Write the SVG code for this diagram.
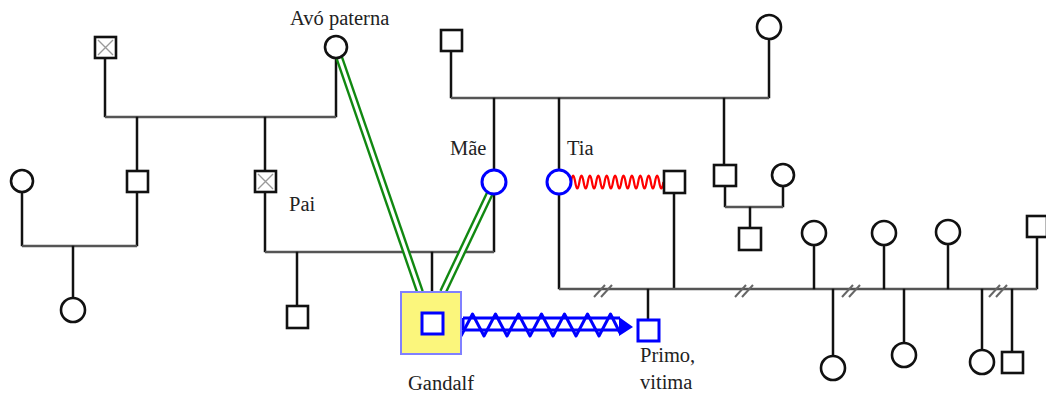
<svg xmlns="http://www.w3.org/2000/svg" width="1046" height="394" viewBox="0 0 1046 394">
<style>
.ln{fill:none;stroke:#111;stroke-width:2.5;stroke-linecap:square}
.hl{fill:none;stroke:#555;stroke-width:2.5}
.sq{fill:#fff;stroke:#111;stroke-width:2.6}
.ci{fill:#fff;stroke:#111;stroke-width:2.6}
.bci{fill:#fff;stroke:#0000ff;stroke-width:3}
.bsq{fill:#fff;stroke:#0000ff;stroke-width:3}
.xx{stroke:#9a9a9a;stroke-width:1.4}
.sl{stroke:#666;stroke-width:2}
.g1{fill:none;stroke:#118811;stroke-width:8}
.g2{fill:none;stroke:#fff;stroke-width:3.2}
.t{font-family:"Liberation Serif","Times New Roman",serif;font-size:20.5px;fill:#222}
</style>
<rect width="1046" height="394" fill="#fff"/>
<g id="connectors">
  <path class="ln" d="M105,58 V116"/>
  <path class="ln" d="M336,58 V116"/>
  <path class="hl" d="M105,117 H336"/>
  <path class="ln" d="M137,118 V170"/>
  <path class="ln" d="M265,118 V170"/>
  <path class="ln" d="M22,192 V245"/>
  <path class="ln" d="M137,192 V245"/>
  <path class="hl" d="M22,246 H137"/>
  <path class="ln" d="M73,247 V298"/>
  <path class="ln" d="M265,192 V251"/>
  <path class="ln" d="M494,194 V251"/>
  <path class="hl" d="M265,252 H494"/>
  <path class="ln" d="M432,253 V292"/>
  <path class="ln" d="M297,253 V306"/>
  <path class="ln" d="M451,51 V97"/>
  <path class="ln" d="M769,39 V97"/>
  <path class="hl" d="M451,98 H769"/>
  <path class="ln" d="M494,99 V170"/>
  <path class="ln" d="M559,99 V170"/>
  <path class="ln" d="M724,99 V165"/>
  <path class="ln" d="M725,187 V206"/>
  <path class="ln" d="M783,186 V206"/>
  <path class="hl" d="M725,207 H783"/>
  <path class="ln" d="M750,208 V228"/>
  <path class="ln" d="M559,194 V288"/>
  <path class="ln" d="M674,193 V288"/>
  <path class="ln" d="M1037,237 V288"/>
  <path class="hl" d="M559,289 H1037"/>
  <path class="ln" d="M814,245 V288"/>
  <path class="ln" d="M884,245 V288"/>
  <path class="ln" d="M948,244 V288"/>
  <path class="ln" d="M648,290 V319"/>
  <path class="ln" d="M833,290 V356"/>
  <path class="ln" d="M904,290 V343"/>
  <path class="ln" d="M982,290 V350"/>
  <path class="ln" d="M1012,290 V352"/>
  <g transform="translate(604,290)"><line class="sl" x1="-10" y1="7" x2="1" y2="-5"/><line class="sl" x1="-3" y1="7" x2="8" y2="-5"/></g>
  <g transform="translate(745,290)"><line class="sl" x1="-10" y1="7" x2="1" y2="-5"/><line class="sl" x1="-3" y1="7" x2="8" y2="-5"/></g>
  <g transform="translate(852,290)"><line class="sl" x1="-10" y1="7" x2="1" y2="-5"/><line class="sl" x1="-3" y1="7" x2="8" y2="-5"/></g>
  <g transform="translate(999,290)"><line class="sl" x1="-10" y1="7" x2="1" y2="-5"/><line class="sl" x1="-3" y1="7" x2="8" y2="-5"/></g>
  <path fill="none" stroke="#ff0000" stroke-width="2.2" d="M571,182 q2.1,-13 4.2,0 t4.2,0 t4.2,0 t4.2,0 t4.2,0 t4.2,0 t4.2,0 t4.2,0 t4.2,0 t4.2,0 t4.2,0 t4.2,0 t4.2,0 t4.2,0 t4.2,0 t4.2,0 t4.2,0 t4.2,0 t4.2,0 t4.2,0 t4.2,0 t4.2,0"/>
  <path class="g1" d="M339,57 L420,292"/>
  <path class="g2" d="M339,57 L420,292"/>
  <path class="g1" d="M490,193 L443,292"/>
  <path class="g2" d="M490,193 L443,292"/>
  <g fill="none" stroke="#0000ff" stroke-width="3" stroke-linejoin="round">
    <path d="M463,318 H620 M463,330 H620 M463,318 V330"/>
    <polyline points="461,336 472.5,314 484,336 495.5,314 507,336 518.5,314 530,336 541.5,314 553,336 564.5,314 576,336 587.5,314 599,336 610.5,314 620,333"/>
  </g>
  <polygon points="619,317 633,327 619,336" fill="#0000ff"/>
</g>
<g id="n-gf-pat"><rect class="sq" x="95" y="37" width="21" height="21"/><path class="xx" d="M98,40 L113,55 M113,40 L98,55"/></g>
<g id="n-avo"><circle class="ci" cx="336" cy="47" r="11"/></g>
<g id="n-uncle1"><rect class="sq" x="127" y="171" width="21" height="21"/></g>
<g id="n-pai"><rect class="sq" x="255" y="171" width="21" height="21"/><path class="xx" d="M258,174 L273,189 M273,174 L258,189"/></g>
<g id="n-uncle1-wife"><circle class="ci" cx="22" cy="181" r="11"/></g>
<g id="n-cousin1"><circle class="ci" cx="73" cy="310" r="12"/></g>
<g id="n-halfbrother"><rect class="sq" x="287" y="306" width="21" height="22"/></g>
<g id="n-mae"><circle class="bci" cx="494" cy="182" r="12"/></g>
<g id="n-tia"><circle class="bci" cx="559" cy="182" r="12"/></g>
<g id="n-tia-partner"><rect class="sq" x="664" y="171" width="21" height="22"/></g>
<g id="n-gf-mat"><rect class="sq" x="441" y="30" width="21" height="21"/></g>
<g id="n-gm-mat"><circle class="ci" cx="769" cy="27" r="12"/></g>
<g id="n-uncle2"><rect class="sq" x="714" y="165" width="22" height="21"/></g>
<g id="n-uncle2-wife"><circle class="ci" cx="783" cy="175" r="11"/></g>
<g id="n-uncle2-child"><rect class="sq" x="739" y="228" width="22" height="22"/></g>
<g id="n-c1"><circle class="ci" cx="814" cy="233" r="12"/></g>
<g id="n-c2"><circle class="ci" cx="884" cy="233" r="12"/></g>
<g id="n-c3"><circle class="ci" cx="948" cy="232" r="12"/></g>
<g id="n-c4"><rect class="sq" x="1027" y="216" width="20" height="21"/></g>
<g id="n-k1"><circle class="ci" cx="833" cy="368" r="12"/></g>
<g id="n-k2"><circle class="ci" cx="904" cy="355" r="12"/></g>
<g id="n-k3"><circle class="ci" cx="982" cy="362" r="12"/></g>
<g id="n-k4"><rect class="sq" x="1002" y="352" width="21" height="21"/></g>
<g id="n-primo"><rect class="bsq" x="638" y="320" width="21" height="21"/></g>
<g id="n-gandalf"><rect x="401" y="292" width="60" height="62" fill="#fbf67c" stroke="#8080ff" stroke-width="2"/><rect class="bsq" x="422" y="313" width="21" height="21"/></g>
<g id="labels">
  <text class="t" x="290" y="25">Avó paterna</text>
  <text class="t" x="450" y="155">Mãe</text>
  <text class="t" x="567" y="155">Tia</text>
  <text class="t" x="289" y="211">Pai</text>
  <text class="t" x="408" y="390">Gandalf</text>
  <text class="t" x="640" y="362">Primo,</text>
  <text class="t" x="640" y="389">vitima</text>
</g>
</svg>
